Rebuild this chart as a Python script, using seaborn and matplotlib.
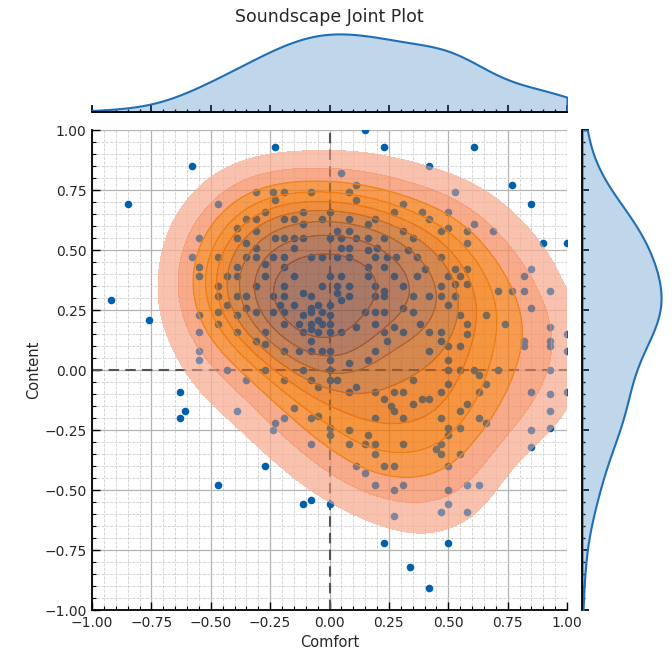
import numpy as np
import pandas as pd
import matplotlib
matplotlib.use("Agg")
import matplotlib.pyplot as plt
import seaborn as sns
from matplotlib.ticker import MultipleLocator
from matplotlib.colors import ListedColormap

# ---- data: (Comfort, Content) points ----
outer_pts = [(-0.92, 0.29), (-0.85, 0.69), (-0.76, 0.21), (-0.58, 0.85), (-0.23, 0.93), (0.15, 1.0),
             (0.23, 0.93), (0.42, 0.85), (0.61, 0.93), (0.77, 0.77), (0.85, 0.69), (0.90, 0.53),
             (1.0, 0.53), (1.0, 0.15), (1.0, 0.08), (1.0, -0.09), (0.93, -0.24), (0.85, -0.32),
             (0.50, -0.72), (0.42, -0.91), (0.34, -0.82), (0.23, -0.72), (0.0, -0.56), (-0.11, -0.56),
             (-0.08, -0.54), (-0.27, -0.40), (-0.47, -0.48), (-0.63, -0.09), (-0.61, -0.17), (-0.63, -0.20)]
upper_left_pts = [(-0.31, 0.74), (-0.24, 0.74), (-0.19, 0.74), (-0.23, 0.71), (-0.47, 0.69), (-0.27, 0.66),
                  (-0.35, 0.63), (-0.31, 0.63), (-0.19, 0.63), (-0.39, 0.59), (-0.31, 0.58), (-0.55, 0.55),
                  (-0.39, 0.55), (-0.35, 0.53), (-0.23, 0.55), (-0.19, 0.55), (-0.31, 0.51), (-0.58, 0.47),
                  (-0.47, 0.47), (-0.35, 0.47), (-0.31, 0.47), (-0.24, 0.47), (-0.19, 0.47), (-0.55, 0.43),
                  (-0.39, 0.43), (-0.27, 0.44), (-0.55, 0.39), (-0.43, 0.39), (-0.39, 0.39), (-0.27, 0.39),
                  (-0.19, 0.43), (-0.47, 0.35), (-0.31, 0.35), (-0.19, 0.35), (-0.47, 0.31), (-0.39, 0.31),
                  (-0.35, 0.31), (-0.24, 0.31), (-0.19, 0.31), (-0.43, 0.27), (-0.35, 0.26), (-0.31, 0.24),
                  (-0.24, 0.24), (-0.21, 0.27), (-0.55, 0.23), (-0.47, 0.24), (-0.39, 0.23), (-0.19, 0.24),
                  (-0.55, 0.16), (-0.47, 0.19), (-0.39, 0.16), (-0.27, 0.16), (-0.31, 0.12), (-0.19, 0.19)]
upper_mid_pts = [(0.05, 0.82), (0.11, 0.77), (0.08, 0.74), (0.11, 0.71), (-0.08, 0.74), (0.31, 0.69),
                 (0.39, 0.66), (0.27, 0.66), (0.42, 0.63), (-0.11, 0.66), (0.0, 0.66), (-0.15, 0.63),
                 (-0.03, 0.63), (0.08, 0.63), (0.19, 0.63), (0.16, 0.61), (-0.11, 0.61), (0.03, 0.58),
                 (0.08, 0.58), (0.31, 0.58), (-0.15, 0.55), (-0.11, 0.55), (0.0, 0.55), (0.05, 0.55),
                 (0.11, 0.55), (0.16, 0.55), (0.23, 0.55), (0.35, 0.55), (-0.15, 0.51), (0.05, 0.51),
                 (0.08, 0.51), (0.16, 0.50), (0.20, 0.51), (0.33, 0.50), (-0.08, 0.47), (-0.03, 0.47),
                 (0.03, 0.47), (0.08, 0.47), (0.19, 0.47), (0.24, 0.47), (0.28, 0.47), (0.37, 0.47),
                 (0.16, 0.43), (0.23, 0.43), (0.40, 0.42), (-0.15, 0.39), (0.0, 0.39), (0.05, 0.39),
                 (0.16, 0.39), (0.27, 0.39), (0.37, 0.39), (-0.03, 0.35), (0.03, 0.35), (0.08, 0.35),
                 (0.19, 0.35), (0.31, 0.35), (-0.11, 0.32), (-0.08, 0.31), (0.03, 0.32), (0.05, 0.29),
                 (0.08, 0.31), (0.23, 0.33), (0.23, 0.31), (0.19, 0.31), (0.35, 0.31), (-0.15, 0.27),
                 (-0.08, 0.26), (-0.08, 0.24), (-0.05, 0.27), (-0.03, 0.24), (0.0, 0.27), (0.0, 0.23),
                 (-0.11, 0.23), (0.15, 0.24), (0.19, 0.24), (0.23, 0.24), (0.35, 0.24), (0.31, 0.26),
                 (-0.13, 0.19), (-0.08, 0.19), (-0.03, 0.19), (-0.05, 0.21), (0.0, 0.19), (-0.11, 0.16),
                 (-0.08, 0.17), (-0.05, 0.16), (0.0, 0.16), (0.05, 0.16), (0.11, 0.18), (0.19, 0.19),
                 (0.23, 0.16), (0.27, 0.18), (0.31, 0.16), (0.38, 0.19), (0.24, 0.12), (-0.08, 0.12)]
upper_right_pts = [(0.53, 0.74), (0.50, 0.66), (0.61, 0.61), (0.47, 0.58), (0.50, 0.59), (0.58, 0.58),
                   (0.69, 0.58), (0.58, 0.53), (0.47, 0.47), (0.53, 0.42), (0.58, 0.42), (0.50, 0.39),
                   (0.55, 0.39), (0.85, 0.42), (0.82, 0.39), (0.53, 0.36), (0.58, 0.36), (0.47, 0.35),
                   (0.71, 0.33), (0.77, 0.33), (0.82, 0.33), (0.93, 0.33), (0.47, 0.31), (0.53, 0.31),
                   (0.42, 0.31), (0.50, 0.27), (0.85, 0.26), (0.55, 0.23), (0.66, 0.23), (0.58, 0.19),
                   (0.74, 0.19), (0.93, 0.18), (0.42, 0.16), (0.47, 0.16), (0.58, 0.15), (0.82, 0.12),
                   (0.93, 0.12), (0.47, 0.12)]
lower_left_pts = [(-0.55, 0.08), (-0.55, 0.04), (-0.43, 0.0), (-0.35, -0.04), (-0.27, 0.0), (-0.19, -0.04),
                  (-0.19, 0.08), (-0.27, 0.11), (-0.39, -0.17), (-0.23, -0.22), (-0.24, -0.25), (-0.19, -0.20)]
lower_mid_pts = [(-0.13, 0.08), (-0.08, 0.08), (-0.03, 0.08), (0.0, 0.08), (0.0, 0.04), (0.08, 0.03),
                 (0.16, 0.04), (0.19, 0.08), (-0.11, 0.0), (0.0, 0.0), (-0.08, -0.04), (0.0, -0.04),
                 (0.03, -0.04), (-0.05, -0.07), (0.11, -0.07), (0.08, -0.09), (0.19, -0.09), (0.27, -0.09),
                 (0.31, -0.09), (0.35, -0.04), (0.39, -0.12), (0.23, -0.12), (0.26, -0.15), (0.27, -0.17),
                 (0.31, -0.20), (0.35, -0.14), (-0.15, -0.16), (-0.08, -0.20), (-0.05, -0.19), (0.19, -0.20),
                 (0.0, -0.24), (0.08, -0.25), (0.0, -0.27), (0.16, -0.27), (-0.08, -0.31), (0.08, -0.31),
                 (0.15, -0.31), (0.19, -0.31), (0.19, -0.35), (0.31, -0.31), (0.11, -0.40), (0.23, -0.40),
                 (0.27, -0.40), (0.15, -0.43), (0.19, -0.48), (0.27, -0.50), (0.31, -0.48), (0.27, -0.61)]
lower_right_pts = [(0.50, 0.10), (0.55, 0.10), (0.82, 0.10), (0.93, 0.10), (0.42, 0.08), (0.50, 0.04),
                   (0.50, 0.0), (0.55, 0.0), (0.61, 0.0), (0.63, -0.02), (0.71, 0.0), (0.93, 0.0),
                   (0.50, -0.06), (0.47, -0.09), (0.63, -0.09), (0.66, -0.06), (0.85, -0.09), (0.93, -0.10),
                   (0.42, -0.12), (0.58, -0.14), (0.55, -0.17), (0.93, -0.17), (0.47, -0.20), (0.63, -0.20),
                   (0.66, -0.22), (0.50, -0.24), (0.55, -0.24), (0.85, -0.25), (0.50, -0.27), (0.45, -0.33),
                   (0.47, -0.35), (0.47, -0.31), (0.55, -0.35), (0.50, -0.40), (0.58, -0.48), (0.63, -0.48),
                   (0.50, -0.50), (0.50, -0.56), (0.47, -0.59), (0.58, -0.59)]

all_pts = (outer_pts + upper_left_pts + upper_mid_pts + upper_right_pts
           + lower_left_pts + lower_mid_pts + lower_right_pts)
comfort = [p[0] for p in all_pts]
content = [p[1] for p in all_pts]
df = pd.DataFrame({"Comfort": comfort, "Content": content})

title = "Soundscape Joint Plot"
tick_values = [-1.0, -0.75, -0.5, -0.25, 0.0, 0.25, 0.5, 0.75, 1.0]

# ---- styling ----
sns.set_theme(style="white")
plt.rcParams['font.family'] = ['DejaVu Sans']

POINT_BLUE = "#0060ad"
MARG_BLUE = "#1f6fb5"
A = 0.5          # alpha of each of the two density layers
disp = [(250, 195, 176), (248, 172, 140), (247, 156, 80), (246, 150, 60), (240, 143, 56),
        (215, 138, 80), (198, 132, 92), (183, 126, 100), (170, 122, 105)]
eff = 1 - (1 - A) ** 2
fill_colors = [tuple(max(0, min(1, (c - 255 * (1 - A) ** 2) / eff / 255)) for c in d) for d in disp]
line_colors = [(1, 1, 1, 0), (1, 1, 1, 0), (0.93, 0.52, 0.12, 0.85), (0.93, 0.50, 0.10, 0.85),
               (0.90, 0.47, 0.10, 0.85), (0.80, 0.44, 0.14, 0.85), (0.70, 0.40, 0.18, 0.85),
               (0.62, 0.37, 0.22, 0.85), (0.58, 0.35, 0.24, 0.85), (0.55, 0.34, 0.25, 0.85)]
fill_cmap = ListedColormap(fill_colors)
line_cmap = ListedColormap(line_colors)
kde_kws = dict(levels=10, thresh=0.14, bw_adjust=1.25)

fig = plt.figure(figsize=(6.72, 6.57), dpi=100)
ax = fig.add_axes([92 / 672, 47 / 657, 475 / 672, 480 / 657])
ax_top = fig.add_axes([92 / 672, 545 / 657, 475 / 672, 82 / 657], sharex=ax)
ax_right = fig.add_axes([582 / 672, 47 / 657, 83 / 672, 480 / 657], sharey=ax)

# grid
ax.set_axisbelow(True)
ax.xaxis.set_major_locator(MultipleLocator(0.25))
ax.yaxis.set_major_locator(MultipleLocator(0.25))
ax.xaxis.set_minor_locator(MultipleLocator(0.05))
ax.yaxis.set_minor_locator(MultipleLocator(0.05))
ax.grid(which="major", color="#b4b4b4", linewidth=0.9, linestyle="-")
ax.grid(which="minor", color="#cfcfcf", linewidth=0.6, linestyle="--")

# first density layer (below points)
sns.kdeplot(data=df, x="Comfort", y="Content", fill=True, cmap=fill_cmap, alpha=A,
            ax=ax, zorder=1.6, **kde_kws)

ax.axhline(0, color="#555555", linestyle="--", linewidth=1.5, zorder=1.8, dashes=(5, 3))
ax.axvline(0, color="#555555", linestyle="--", linewidth=1.5, zorder=1.8, dashes=(5, 3))

sns.scatterplot(data=df, x="Comfort", y="Content", color=POINT_BLUE, s=30, linewidth=0,
                ax=ax, zorder=2)
# second density layer (over points) + outlines
sns.kdeplot(data=df, x="Comfort", y="Content", fill=True, cmap=fill_cmap, alpha=A,
            ax=ax, zorder=3, **kde_kws)
sns.kdeplot(data=df, x="Comfort", y="Content", fill=False, cmap=line_cmap, linewidths=1.0,
            ax=ax, zorder=3.5, **kde_kws)

ax.set_xlim(-1, 1)
ax.set_ylim(-1, 1)
ax.set_xticks(tick_values)
ax.set_yticks(tick_values)
for s in ["top", "right"]:
    ax.spines[s].set_visible(False)
for s in ["left", "bottom"]:
    ax.spines[s].set_color("black")
    ax.spines[s].set_linewidth(1.3)
ax.tick_params(which="major", direction="in", length=6, width=1.0, color="black",
               left=True, bottom=True, labelsize=10, pad=4)
ax.tick_params(which="minor", direction="in", length=3, width=0.8, color="black",
               left=True, bottom=True)
ax.set_xlabel("Comfort", fontsize=10.5, labelpad=4)
ax.set_ylabel("Content", fontsize=10.5, labelpad=2)

# marginals
sns.kdeplot(data=df, x="Comfort", ax=ax_top, fill=True, color=MARG_BLUE, alpha=0.28,
            linewidth=1.5, clip=(-1, 1), bw_adjust=1.2)
sns.kdeplot(data=df, y="Content", ax=ax_right, fill=True, color=MARG_BLUE, alpha=0.28,
            linewidth=1.5, clip=(-1, 1), bw_adjust=1.2)

for a, keep in [(ax_top, "bottom"), (ax_right, "left")]:
    for s in ["top", "right", "left", "bottom"]:
        a.spines[s].set_visible(s == keep)
    a.spines[keep].set_color("black")
    a.spines[keep].set_linewidth(1.3)
    a.grid(False)
    a.set_xlabel("")
    a.set_ylabel("")

ax_top.set_ylim(0, None)
ax_top.tick_params(axis="x", which="major", direction="in", length=5, color="black",
                   bottom=True, labelbottom=False)
ax_top.tick_params(axis="x", which="minor", direction="in", length=2.5, color="black",
                   bottom=True)
ax_top.tick_params(axis="y", left=False, labelleft=False)

ax_right.set_xlim(0, None)
ax_right.tick_params(axis="y", which="major", direction="in", length=5, color="black",
                     left=True, labelleft=False)
ax_right.tick_params(axis="y", which="minor", direction="in", length=2.5, color="black",
                     left=True)
ax_right.tick_params(axis="x", bottom=False, labelbottom=False)

fig.text(329.5 / 672, 1 - 17 / 657, title, ha="center", va="center", fontsize=12.5)

fig.savefig("out.png", dpi=100)
